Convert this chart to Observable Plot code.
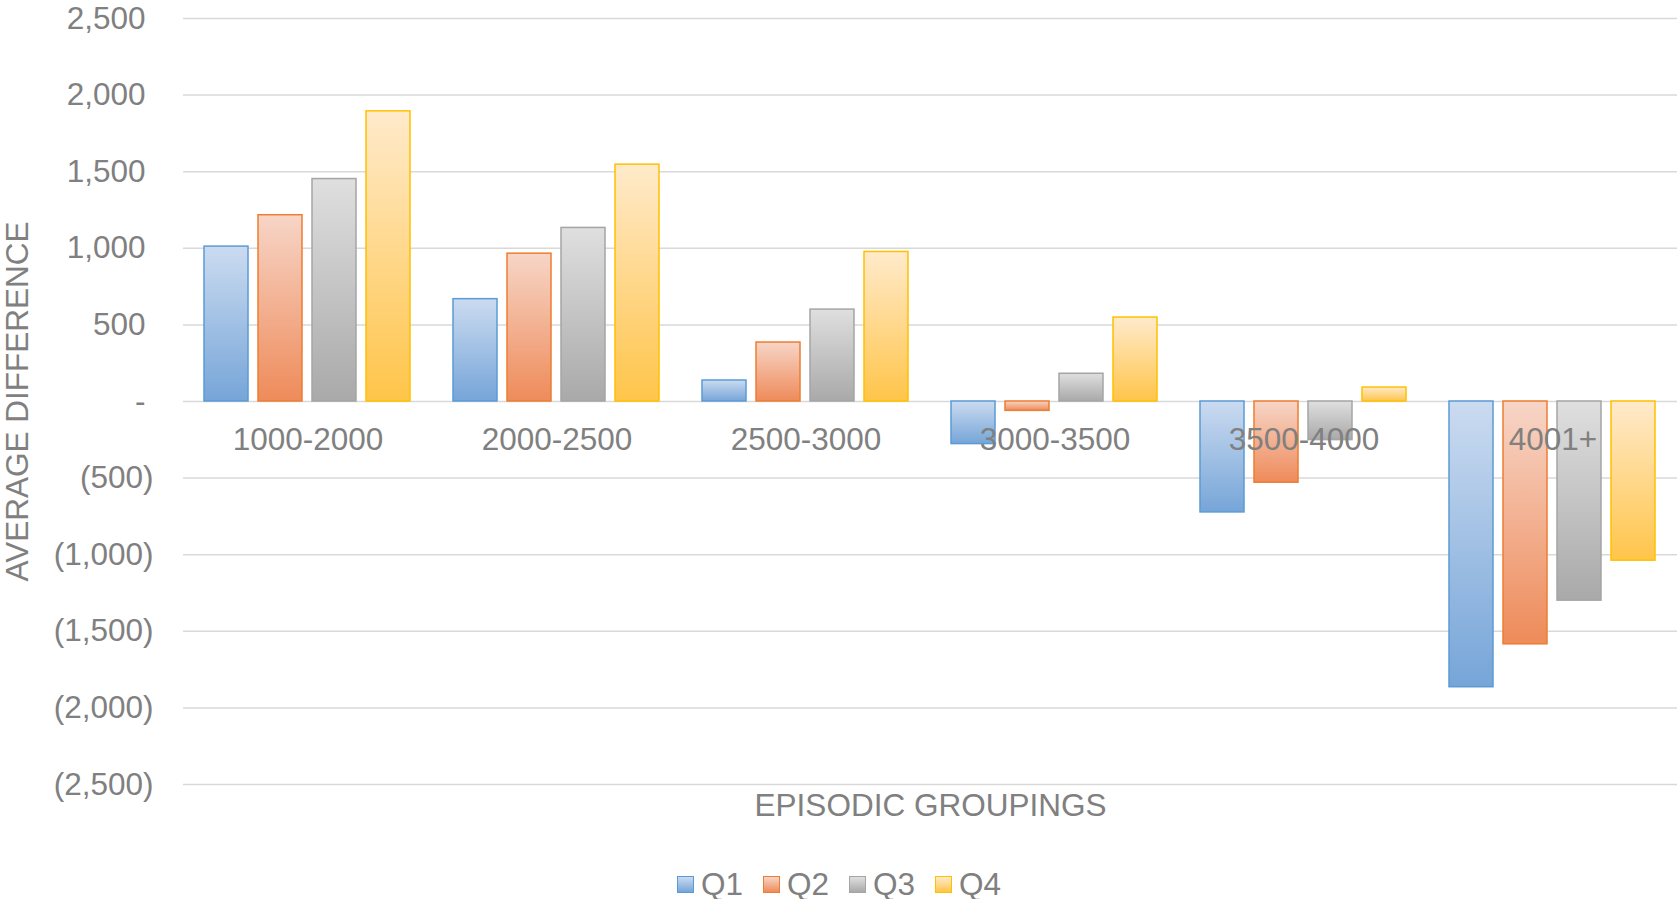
<!DOCTYPE html>
<html>
<head>
<meta charset="utf-8">
<script src="https://cdn.jsdelivr.net/npm/d3@7"></script>
<script src="https://cdn.jsdelivr.net/npm/@observablehq/plot@0.6"></script>
<style>
  html, body { margin: 0; padding: 0; background: #ffffff; }
  body { font-family: "Liberation Sans", Arial, Helvetica, sans-serif; width: 1678px; height: 899px; overflow: hidden; }
  #chart svg { display: block; }
  #legend { display: flex; justify-content: center; align-items: center; height: 37px; padding-top: 4px; font-size: 31.5px; color: #808080; }
  #legend .item { display: flex; align-items: center; margin: 0 10px; }
  #legend .sw { width: 15px; height: 15px; margin-right: 7px; }
</style>
</head>
<body>
<div id="chart"></div>
<div id="legend"></div>
<script>
// ---- data ----
const groups = ["1000-2000", "2000-2500", "2500-3000", "3000-3500", "3500-4000", "4001+"];
const quarters = ["Q1", "Q2", "Q3", "Q4"];
const q1 = [1011, 668, 137, -278, -724, -1865];
const q2 = [1216, 965, 385, -61, -530, -1585];
const q3 = [1452, 1133, 600, 181, -252, -1300];
const q4 = [1894, 1546, 976, 548, 91, -1039];
const yTicks = [-2500, -2000, -1500, -1000, -500, 0, 500, 1000, 1500, 2000, 2500];

// ---- styles ----
const strokeColors = ["#5b9bd5", "#ed7d31", "#a5a5a5", "#ffc000"];
const gradTop = ["#cbdbf0", "#f7d5c7", "#dfdfdf", "#ffeacb"];
const gradBottom = ["#76a5d8", "#ee8b5a", "#a9a9a9", "#ffc54a"];
const gradIds = quarters.map(q => "grad-" + q);

const series = [q1, q2, q3, q4];
const data = groups.flatMap((g, i) => series.map((s, j) => ({group: g, quarter: quarters[j], value: s[i]})));

const fmt = d3.format(",");

const plot = Plot.plot({
  width: 1678,
  height: 862,
  marginLeft: 182,
  marginRight: 0,
  marginTop: 18,
  marginBottom: 78,
  style: {fontFamily: "'Liberation Sans', Arial, Helvetica, sans-serif", fontSize: "31.5px", color: "#808080", background: "#ffffff"},
  fx: {domain: groups, padding: 0, axis: null},
  x: {domain: quarters, paddingInner: 0.18, paddingOuter: 0.39, axis: null},
  y: {domain: [-2500, 2500], axis: null},
  color: {type: "ordinal", domain: quarters, range: gradIds.map(id => `url(#${id})`)},
  marks: [
    Plot.ruleY(yTicks, {stroke: "#d9d9d9", strokeWidth: 1.5}),
    Plot.barY(data, {
      fx: "group", x: "quarter", y: "value",
      fill: "quarter",
      stroke: d => strokeColors[quarters.indexOf(d.quarter)],
      strokeWidth: 1.5
    }),
    Plot.text(groups, {fx: d => d, y: 0, text: d => d, dy: 38, fill: "#808080"}),
    Plot.axisY(yTicks.filter(d => d >= 0), {
      anchor: "left", tickSize: 0, tickPadding: 38, fill: "#808080",
      tickFormat: d => d === 0 ? "-" : fmt(d),
      label: "AVERAGE DIFFERENCE", labelAnchor: "center", labelArrow: "none", labelOffset: 178
    }),
    Plot.axisY(yTicks.filter(d => d < 0), {
      anchor: "left", tickSize: 0, tickPadding: 30, fill: "#808080",
      tickFormat: d => `(${fmt(-d)})`, label: null
    }),
    Plot.axisFx({
      anchor: "bottom", ticks: [], tickSize: 0, fill: "#808080",
      label: "EPISODIC GROUPINGS", labelAnchor: "center", labelArrow: "none", labelOffset: 31
    })
  ]
});

// gradient definitions for the bar fills
const svg = d3.select(plot);
const defs = svg.insert("defs", ":first-child");
quarters.forEach((q, i) => {
  const lg = defs.append("linearGradient").attr("id", gradIds[i])
    .attr("x1", 0).attr("y1", 0).attr("x2", 0).attr("y2", 1);
  lg.append("stop").attr("offset", "0%").attr("stop-color", gradTop[i]);
  lg.append("stop").attr("offset", "100%").attr("stop-color", gradBottom[i]);
});

document.getElementById("chart").appendChild(plot);

// legend
const legend = d3.select("#legend");
quarters.forEach((q, i) => {
  const item = legend.append("div").attr("class", "item");
  item.append("div").attr("class", "sw")
    .style("border", `1.5px solid ${strokeColors[i]}`)
    .style("background", `linear-gradient(to bottom, ${gradTop[i]}, ${gradBottom[i]})`);
  item.append("span").text(q);
});
</script>
</body>
</html>
